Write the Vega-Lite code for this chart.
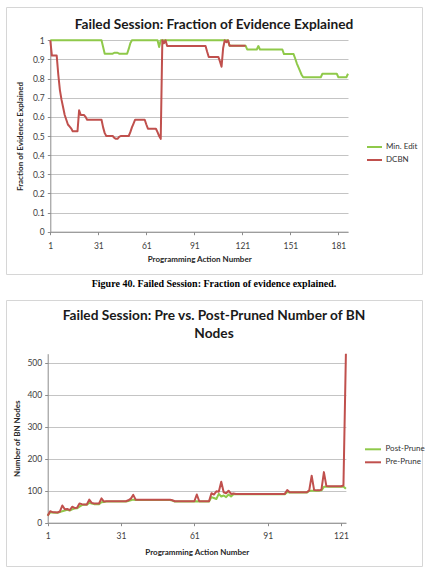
{
  "$schema": "https://vega.github.io/schema/vega-lite/v6.json",
  "padding": {"left": 5, "top": 6, "right": 0, "bottom": 0},
  "bounds": "flush",
  "spacing": 0,
  "resolve": {"scale": {"color": "independent"}, "legend": {"color": "independent"}},
  "config": {
    "font": "Lato",
    "view": {"stroke": null},
    "axis": {
      "labelFont": "Lato", "labelFontSize": 8.5, "labelColor": "#404040",
      "titleFont": "Lato", "titleFontSize": 8, "titleFontWeight": "bold", "titleColor": "#262626",
      "domainColor": "#8c8c8c", "tickColor": "#8c8c8c", "tickSize": 3,
      "gridColor": "#c4c4c4", "labelFlush": false, "labelOverlap": false
    },
    "legend": {
      "labelFont": "Lato", "labelFontSize": 8, "labelColor": "#333333",
      "symbolType": "stroke", "symbolStrokeWidth": 2, "padding": 0, "title": null
    }
  },
  "datasets": {
    "evidence": [
      {"n":1,"me":1,"dc":1},{"n":2,"me":1,"dc":0.92},{"n":3,"me":1,"dc":0.92},{"n":4,"me":1,"dc":0.92},
      {"n":5,"me":1,"dc":0.92},{"n":6,"me":1,"dc":0.82},{"n":7,"me":1,"dc":0.74},{"n":8,"me":1,"dc":0.69},
      {"n":9,"me":1,"dc":0.65},{"n":10,"me":1,"dc":0.61},{"n":11,"me":1,"dc":0.585},{"n":12,"me":1,"dc":0.56},
      {"n":13,"me":1,"dc":0.55},{"n":14,"me":1,"dc":0.54},{"n":15,"me":1,"dc":0.525},{"n":16,"me":1,"dc":0.525},
      {"n":17,"me":1,"dc":0.525},{"n":18,"me":1,"dc":0.525},{"n":19,"me":1,"dc":0.634},{"n":20,"me":1,"dc":0.61},
      {"n":21,"me":1,"dc":0.61},{"n":22,"me":1,"dc":0.61},{"n":23,"me":1,"dc":0.6},{"n":24,"me":1,"dc":0.585},
      {"n":25,"me":1,"dc":0.585},{"n":26,"me":1,"dc":0.585},{"n":27,"me":1,"dc":0.585},{"n":28,"me":1,"dc":0.585},
      {"n":29,"me":1,"dc":0.585},{"n":30,"me":1,"dc":0.585},{"n":31,"me":1,"dc":0.585},{"n":32,"me":1,"dc":0.585},
      {"n":33,"me":1,"dc":0.585},{"n":34,"me":0.965,"dc":0.545},{"n":35,"me":0.93,"dc":0.515},{"n":36,"me":0.93,"dc":0.5},
      {"n":37,"me":0.93,"dc":0.5},{"n":38,"me":0.93,"dc":0.5},{"n":39,"me":0.93,"dc":0.5},{"n":40,"me":0.93,"dc":0.5},
      {"n":41,"me":0.935,"dc":0.49},{"n":42,"me":0.935,"dc":0.485},{"n":43,"me":0.935,"dc":0.485},{"n":44,"me":0.93,"dc":0.495},
      {"n":45,"me":0.93,"dc":0.5},{"n":46,"me":0.93,"dc":0.5},{"n":47,"me":0.93,"dc":0.5},{"n":48,"me":0.93,"dc":0.5},
      {"n":49,"me":0.93,"dc":0.5},{"n":50,"me":0.955,"dc":0.5},{"n":51,"me":0.985,"dc":0.52},{"n":52,"me":1,"dc":0.545},
      {"n":53,"me":1,"dc":0.565},{"n":54,"me":1,"dc":0.585},{"n":55,"me":1,"dc":0.585},{"n":56,"me":1,"dc":0.585},
      {"n":57,"me":1,"dc":0.585},{"n":58,"me":1,"dc":0.585},{"n":59,"me":1,"dc":0.585},{"n":60,"me":1,"dc":0.585},
      {"n":61,"me":1,"dc":0.56},{"n":62,"me":1,"dc":0.538},{"n":63,"me":1,"dc":0.538},{"n":64,"me":1,"dc":0.538},
      {"n":65,"me":1,"dc":0.538},{"n":66,"me":1,"dc":0.538},{"n":67,"me":1,"dc":0.538},{"n":68,"me":1,"dc":0.52},
      {"n":69,"me":0.965,"dc":0.5},{"n":70,"me":1,"dc":0.485},{"n":71,"me":1,"dc":1},{"n":72,"me":1,"dc":0.985},
      {"n":73,"me":1,"dc":1},{"n":74,"me":1,"dc":0.97},{"n":75,"me":1,"dc":0.97},{"n":76,"me":1,"dc":0.97},
      {"n":77,"me":1,"dc":0.97},{"n":78,"me":1,"dc":0.97},{"n":79,"me":1,"dc":0.97},{"n":80,"me":1,"dc":0.97},
      {"n":81,"me":1,"dc":0.97},{"n":82,"me":1,"dc":0.97},{"n":83,"me":1,"dc":0.97},{"n":84,"me":1,"dc":0.97},
      {"n":85,"me":1,"dc":0.97},{"n":86,"me":1,"dc":0.97},{"n":87,"me":1,"dc":0.97},{"n":88,"me":1,"dc":0.97},
      {"n":89,"me":1,"dc":0.97},{"n":90,"me":1,"dc":0.97},{"n":91,"me":1,"dc":0.97},{"n":92,"me":1,"dc":0.97},
      {"n":93,"me":1,"dc":0.97},{"n":94,"me":1,"dc":0.97},{"n":95,"me":1,"dc":0.97},{"n":96,"me":1,"dc":0.97},
      {"n":97,"me":1,"dc":0.97},{"n":98,"me":1,"dc":0.97},{"n":99,"me":1,"dc":0.94},{"n":100,"me":1,"dc":0.913},
      {"n":101,"me":1,"dc":0.913},{"n":102,"me":1,"dc":0.913},{"n":103,"me":1,"dc":0.913},{"n":104,"me":1,"dc":0.913},
      {"n":105,"me":1,"dc":0.913},{"n":106,"me":1,"dc":0.913},{"n":107,"me":1,"dc":0.89},{"n":108,"me":1,"dc":0.862},
      {"n":109,"me":1,"dc":0.96},{"n":110,"me":1,"dc":1},{"n":111,"me":1,"dc":0.99},{"n":112,"me":1,"dc":1},
      {"n":113,"me":0.972,"dc":0.972},{"n":114,"me":0.972,"dc":0.972},{"n":115,"me":0.972,"dc":0.972},{"n":116,"me":0.972,"dc":0.972},
      {"n":117,"me":0.972,"dc":0.972},{"n":118,"me":0.972,"dc":0.972},{"n":119,"me":0.972,"dc":0.972},{"n":120,"me":0.972,"dc":0.972},
      {"n":121,"me":0.972,"dc":0.972},{"n":122,"me":0.972,"dc":0.972},{"n":123,"me":0.972,"dc":0.972},
      {"n":124,"me":0.952},{"n":125,"me":0.952},{"n":126,"me":0.952},{"n":127,"me":0.952},{"n":128,"me":0.952},
      {"n":129,"me":0.952},{"n":130,"me":0.952},{"n":131,"me":0.97},{"n":132,"me":0.952},{"n":133,"me":0.952},
      {"n":134,"me":0.952},{"n":135,"me":0.952},{"n":136,"me":0.952},{"n":137,"me":0.952},{"n":138,"me":0.952},
      {"n":139,"me":0.952},{"n":140,"me":0.952},{"n":141,"me":0.952},{"n":142,"me":0.952},{"n":143,"me":0.952},
      {"n":144,"me":0.952},{"n":145,"me":0.952},{"n":146,"me":0.952},{"n":147,"me":0.928},{"n":148,"me":0.928},
      {"n":149,"me":0.928},{"n":150,"me":0.928},{"n":151,"me":0.928},{"n":152,"me":0.928},{"n":153,"me":0.928},
      {"n":154,"me":0.905},{"n":155,"me":0.88},{"n":156,"me":0.86},{"n":157,"me":0.84},{"n":158,"me":0.82},
      {"n":159,"me":0.807},{"n":160,"me":0.807},{"n":161,"me":0.807},{"n":162,"me":0.807},{"n":163,"me":0.807},
      {"n":164,"me":0.807},{"n":165,"me":0.807},{"n":166,"me":0.807},{"n":167,"me":0.807},{"n":168,"me":0.807},
      {"n":169,"me":0.807},{"n":170,"me":0.807},{"n":171,"me":0.825},{"n":172,"me":0.825},{"n":173,"me":0.825},
      {"n":174,"me":0.825},{"n":175,"me":0.825},{"n":176,"me":0.825},{"n":177,"me":0.825},{"n":178,"me":0.825},
      {"n":179,"me":0.825},{"n":180,"me":0.825},{"n":181,"me":0.807},{"n":182,"me":0.807},{"n":183,"me":0.807},
      {"n":184,"me":0.807},{"n":185,"me":0.807},{"n":186,"me":0.807},{"n":187,"me":0.825}
    ],
    "nodes": [
      {"n":1,"post":22,"pre":22},{"n":2,"post":33,"pre":36},{"n":3,"post":32,"pre":33},{"n":4,"post":31,"pre":33},
      {"n":5,"post":31,"pre":32},{"n":6,"post":33,"pre":35},{"n":7,"post":36,"pre":54},{"n":8,"post":38,"pre":42},
      {"n":9,"post":40,"pre":43},{"n":10,"post":38,"pre":39},{"n":11,"post":42,"pre":50},{"n":12,"post":44,"pre":46},
      {"n":13,"post":45,"pre":47},{"n":14,"post":50,"pre":60},{"n":15,"post":55,"pre":58},{"n":16,"post":56,"pre":57},
      {"n":17,"post":56,"pre":57},{"n":18,"post":62,"pre":72},{"n":19,"post":60,"pre":62},{"n":20,"post":58,"pre":60},
      {"n":21,"post":58,"pre":60},{"n":22,"post":58,"pre":60},{"n":23,"post":64,"pre":76},{"n":24,"post":65,"pre":66},
      {"n":25,"post":66,"pre":67},{"n":26,"post":66,"pre":67},{"n":27,"post":66,"pre":67},{"n":28,"post":66,"pre":67},
      {"n":29,"post":66,"pre":67},{"n":30,"post":66,"pre":67},{"n":31,"post":66,"pre":67},{"n":32,"post":66,"pre":67},
      {"n":33,"post":66,"pre":67},{"n":34,"post":68,"pre":70},{"n":35,"post":70,"pre":75},{"n":36,"post":72,"pre":87},
      {"n":37,"post":71,"pre":72},{"n":38,"post":71,"pre":72},{"n":39,"post":71,"pre":72},{"n":40,"post":71,"pre":72},
      {"n":41,"post":71,"pre":72},{"n":42,"post":71,"pre":72},{"n":43,"post":71,"pre":72},{"n":44,"post":71,"pre":72},
      {"n":45,"post":71,"pre":72},{"n":46,"post":71,"pre":72},{"n":47,"post":71,"pre":72},{"n":48,"post":71,"pre":72},
      {"n":49,"post":71,"pre":72},{"n":50,"post":71,"pre":72},{"n":51,"post":71,"pre":72},{"n":52,"post":69,"pre":70},
      {"n":53,"post":66,"pre":67},{"n":54,"post":66,"pre":67},{"n":55,"post":66,"pre":67},{"n":56,"post":66,"pre":67},
      {"n":57,"post":66,"pre":67},{"n":58,"post":66,"pre":67},{"n":59,"post":66,"pre":67},{"n":60,"post":66,"pre":67},
      {"n":61,"post":66,"pre":67},{"n":62,"post":67,"pre":88},{"n":63,"post":66,"pre":67},{"n":64,"post":66,"pre":67},
      {"n":65,"post":66,"pre":67},{"n":66,"post":66,"pre":67},{"n":67,"post":66,"pre":67},{"n":68,"post":80,"pre":92},
      {"n":69,"post":77,"pre":88},{"n":70,"post":74,"pre":98},{"n":71,"post":90,"pre":97},{"n":72,"post":82,"pre":128},
      {"n":73,"post":85,"pre":95},{"n":74,"post":80,"pre":92},{"n":75,"post":88,"pre":100},{"n":76,"post":82,"pre":90},
      {"n":77,"post":89,"pre":91},{"n":78,"post":89,"pre":90},{"n":79,"post":89,"pre":90},{"n":80,"post":89,"pre":90},
      {"n":81,"post":89,"pre":90},{"n":82,"post":89,"pre":90},{"n":83,"post":89,"pre":90},{"n":84,"post":89,"pre":90},
      {"n":85,"post":89,"pre":90},{"n":86,"post":89,"pre":90},{"n":87,"post":89,"pre":90},{"n":88,"post":89,"pre":90},
      {"n":89,"post":89,"pre":90},{"n":90,"post":89,"pre":90},{"n":91,"post":89,"pre":90},{"n":92,"post":89,"pre":90},
      {"n":93,"post":89,"pre":90},{"n":94,"post":89,"pre":90},{"n":95,"post":89,"pre":90},{"n":96,"post":89,"pre":90},
      {"n":97,"post":89,"pre":90},{"n":98,"post":89,"pre":90},{"n":99,"post":96,"pre":102},{"n":100,"post":94,"pre":95},
      {"n":101,"post":94,"pre":95},{"n":102,"post":94,"pre":95},{"n":103,"post":94,"pre":95},{"n":104,"post":94,"pre":95},
      {"n":105,"post":94,"pre":95},{"n":106,"post":94,"pre":95},{"n":107,"post":94,"pre":95},{"n":108,"post":99,"pre":101},
      {"n":109,"post":100,"pre":147},{"n":110,"post":100,"pre":102},{"n":111,"post":100,"pre":101},{"n":112,"post":100,"pre":101},
      {"n":113,"post":101,"pre":103},{"n":114,"post":112,"pre":158},{"n":115,"post":112,"pre":115},{"n":116,"post":112,"pre":114},
      {"n":117,"post":112,"pre":114},{"n":118,"post":112,"pre":114},{"n":119,"post":112,"pre":114},{"n":120,"post":112,"pre":114},
      {"n":121,"post":112,"pre":114},{"n":122,"post":113,"pre":116},{"n":123,"post":106,"pre":528}
    ]
  },
  "vconcat": [
    {
      "width": 416,
      "height": 267,
      "view": {"stroke": "#d6d6d6", "strokeWidth": 1},
      "title": {
        "text": "Failed Session: Fraction of Evidence Explained",
        "frame": "group", "anchor": "middle", "offset": -36, "baseline": "alphabetic",
        "font": "Lato", "fontSize": 13.7, "fontWeight": "bold", "color": "#1a1a1a"
      },
      "data": {"name": "evidence"},
      "layer": [
        {
          "mark": {"type": "line", "strokeWidth": 2, "strokeJoin": "round"},
          "encoding": {
            "x": {
              "field": "n", "type": "quantitative",
              "scale": {"domain": [1, 187], "range": [44.3, 342], "nice": false, "zero": false},
              "axis": {"values": [1, 31, 61, 91, 121, 151, 181], "grid": false, "offset": -42.3,
                       "labelPadding": 6.5, "titlePadding": 6, "title": "Programming Action Number"}
            },
            "y": {
              "field": "me", "type": "quantitative",
              "scale": {"domain": [0, 1], "range": [224.7, 33.3], "nice": false},
              "axis": {"values": [0, 0.1, 0.2, 0.3, 0.4, 0.5, 0.6, 0.7, 0.8, 0.9, 1], "format": "~g",
                       "grid": true, "offset": -44.3, "labelPadding": 3, "titlePadding": 8,
                       "title": "Fraction of Evidence Explained"}
            },
            "color": {
              "datum": "Min. Edit", "type": "nominal",
              "scale": {"domain": ["Min. Edit", "DCBN"], "range": ["#8fc94a", "#c0504d"]},
              "legend": {"orient": "none", "legendX": 360, "legendY": 131.5, "symbolSize": 225,
                         "labelOffset": 3, "rowPadding": 0}
            }
          }
        },
        {
          "mark": {"type": "line", "strokeWidth": 2, "strokeJoin": "round"},
          "encoding": {
            "x": {"field": "n", "type": "quantitative"},
            "y": {
              "field": "dc", "type": "quantitative",
              "axis": {"values": [0, 0.1, 0.2, 0.3, 0.4, 0.5, 0.6, 0.7, 0.8, 0.9, 1], "format": "~g",
                       "grid": true, "offset": -44.3, "labelPadding": 3, "titlePadding": 8,
                       "title": "Fraction of Evidence Explained"}
            },
            "color": {"datum": "DCBN", "type": "nominal"}
          }
        }
      ]
    },
    {
      "width": 416,
      "height": 26,
      "data": {"values": [{"caption": "Figure 40. Failed Session: Fraction of evidence explained."}]},
      "mark": {"type": "text", "font": "Liberation Serif", "fontSize": 10, "fontWeight": "bold",
               "baseline": "alphabetic", "color": "#000000"},
      "encoding": {"text": {"field": "caption"}}
    },
    {
      "width": 416,
      "height": 266,
      "view": {"stroke": "#d6d6d6", "strokeWidth": 1},
      "title": {
        "text": ["Failed Session: Pre vs. Post-Pruned Number of BN", "Nodes"],
        "frame": "group", "anchor": "middle", "offset": -52, "baseline": "alphabetic", "lineHeight": 18.5,
        "font": "Lato", "fontSize": 13.7, "fontWeight": "bold", "color": "#1a1a1a"
      },
      "data": {"name": "nodes"},
      "layer": [
        {
          "mark": {"type": "line", "strokeWidth": 2, "strokeJoin": "round"},
          "encoding": {
            "x": {
              "field": "n", "type": "quantitative",
              "scale": {"domain": [1, 123], "range": [41.7, 339.9], "nice": false, "zero": false},
              "axis": {"values": [1, 31, 61, 91, 121], "grid": false, "offset": -43.3,
                       "labelPadding": 6, "titlePadding": 8.5, "title": "Programming Action Number"}
            },
            "y": {
              "field": "post", "type": "quantitative",
              "scale": {"domain": [0, 528], "range": [222.7, 53.7], "nice": false},
              "axis": {"values": [0, 100, 200, 300, 400, 500], "grid": true, "offset": -41.7,
                       "labelPadding": 3, "titlePadding": 5, "title": "Number of BN Nodes"}
            },
            "color": {
              "datum": "Post-Prune", "type": "nominal",
              "scale": {"domain": ["Post-Prune", "Pre-Prune"], "range": ["#8fc94a", "#c0504d"]},
              "legend": {"orient": "none", "legendX": 358, "legendY": 140.3, "symbolSize": 256,
                         "labelOffset": 3.5, "rowPadding": 0}
            }
          }
        },
        {
          "mark": {"type": "line", "strokeWidth": 2, "strokeJoin": "round"},
          "encoding": {
            "x": {"field": "n", "type": "quantitative"},
            "y": {
              "field": "pre", "type": "quantitative",
              "axis": {"values": [0, 100, 200, 300, 400, 500], "grid": true, "offset": -41.7,
                       "labelPadding": 3, "titlePadding": 5, "title": "Number of BN Nodes"}
            },
            "color": {"datum": "Pre-Prune", "type": "nominal"}
          }
        }
      ]
    }
  ]
}
